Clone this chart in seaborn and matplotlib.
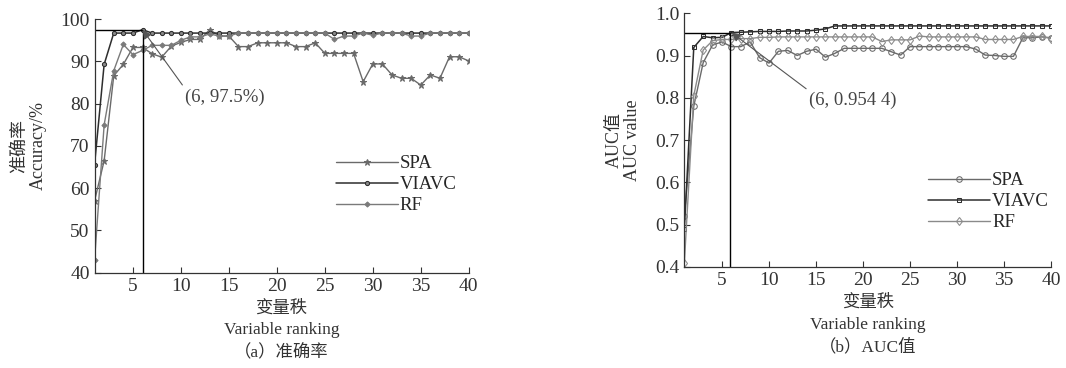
import numpy as np
import pandas as pd
import seaborn as sns
import matplotlib.pyplot as plt
from matplotlib.ticker import FormatStrFormatter

# variable rank (number of selected variables)
ranks = np.arange(1, 41)

# (a) accuracy, %
acc_spa = [57, 66.5, 86.6, 89.3, 93.3, 93.3, 91.8, 91.0, 93.6, 94.5,
           95.2, 95.2, 97.5, 96.0, 96.0, 93.5, 93.5, 94.4, 94.4, 94.4,
           94.4, 93.5, 93.5, 94.4, 91.9, 91.9, 91.9, 91.9, 85.2, 89.4,
           89.4, 86.8, 86.0, 86.0, 84.4, 86.8, 86.0, 91.1, 91.1, 90.1]
acc_viavc = [65.6, 89.3, 96.7, 96.7, 96.7, 97.5, 96.7, 96.7, 96.7, 96.7,
             96.7, 96.7, 96.7, 96.7, 96.7, 96.7, 96.7, 96.7, 96.7, 96.7,
             96.7, 96.7, 96.7, 96.7, 96.7, 96.7, 96.7, 96.7, 96.7, 96.7,
             96.7, 96.7, 96.7, 96.7, 96.7, 96.7, 96.7, 96.7, 96.7, 96.7]
acc_rf = [43, 75, 87.8, 94.0, 91.6, 92.6, 93.8, 93.8, 93.8, 95.0,
          95.8, 95.8, 96.5, 96.0, 96.0, 96.7, 96.7, 96.7, 96.7, 96.7,
          96.7, 96.7, 96.7, 96.7, 96.7, 95.2, 96.0, 96.0, 96.7, 96.2,
          96.7, 96.7, 96.7, 96.0, 96.0, 96.7, 96.7, 96.7, 96.7, 96.7]

# (b) AUC value
auc_spa = [0.52, 0.78, 0.883, 0.925, 0.932, 0.921, 0.921, 0.932, 0.895, 0.882,
           0.910, 0.912, 0.900, 0.910, 0.915, 0.896, 0.905, 0.917, 0.917, 0.917,
           0.917, 0.917, 0.909, 0.901, 0.921, 0.921, 0.921, 0.921, 0.921, 0.921,
           0.921, 0.915, 0.901, 0.900, 0.898, 0.898, 0.942, 0.942, 0.944, 0.942]
auc_viavc = [0.49, 0.919, 0.945, 0.942, 0.943, 0.9544, 0.955, 0.956, 0.957, 0.957,
             0.957, 0.958, 0.958, 0.958, 0.960, 0.963, 0.970, 0.970, 0.970, 0.970,
             0.970, 0.970, 0.970, 0.970, 0.970, 0.970, 0.970, 0.970, 0.970, 0.970,
             0.970, 0.970, 0.970, 0.970, 0.970, 0.970, 0.970, 0.970, 0.970, 0.970]
auc_rf = [0.41, 0.805, 0.913, 0.935, 0.938, 0.938, 0.940, 0.940, 0.943, 0.943,
          0.944, 0.944, 0.944, 0.944, 0.944, 0.944, 0.944, 0.944, 0.944, 0.944,
          0.944, 0.933, 0.937, 0.937, 0.937, 0.946, 0.944, 0.944, 0.944, 0.944,
          0.944, 0.944, 0.938, 0.938, 0.938, 0.938, 0.945, 0.945, 0.945, 0.940]

best_rank = 6
best_acc = 97.5
best_auc = 0.9544

sns.set_style("ticks")
plt.rcParams['font.family'] = ['Liberation Serif', 'Noto Sans CJK SC', 'DejaVu Sans']
plt.rcParams['xtick.direction'] = 'in'
plt.rcParams['ytick.direction'] = 'in'

fig = plt.figure(figsize=(10.66, 3.68), dpi=100)
ax1 = fig.add_axes([0.0887, 0.259, 0.351, 0.689])
ax2 = fig.add_axes([0.642, 0.275, 0.344, 0.689])

c_spa, c_viavc, c_rf = '#6a6a6a', '#2e2e2e', '#7a7a7a'

# ---- (a) accuracy
sns.lineplot(x=ranks, y=acc_spa, ax=ax1, color=c_spa, lw=1, marker='*', markersize=4.5,
             markeredgecolor=c_spa, label='SPA')
sns.lineplot(x=ranks, y=acc_viavc, ax=ax1, color=c_viavc, lw=1.1, marker='o', markersize=3,
             markerfacecolor='#888888', markeredgecolor=c_viavc, label='VIAVC')
sns.lineplot(x=ranks, y=acc_rf, ax=ax1, color=c_rf, lw=1, marker='D', markersize=2.6,
             markeredgecolor=c_rf, label='RF')
ax1.hlines(best_acc, 1, best_rank, color='black', lw=1)
ax1.vlines(best_rank, 40, best_acc, color='black', lw=1)
ax1.annotate('(6, 97.5%)', xy=(best_rank, best_acc), xytext=(10.4, 81.6),
             fontsize=13.5, color='#444444', ha='left', va='center',
             arrowprops=dict(arrowstyle='-|>', color='#555555', lw=0.8,
                             relpos=(0, 1), shrinkA=0, shrinkB=0))
ax1.set_ylim(40, 100)
ax1.set_yticks(range(40, 101, 10))
ax1.set_ylabel('准确率\nAccuracy/%', fontsize=13, color='#333333', linespacing=1.1, labelpad=10)

# ---- (b) AUC
sns.lineplot(x=ranks, y=auc_spa, ax=ax2, color=c_spa, lw=1, marker='o', markersize=4,
             markerfacecolor='none', markeredgecolor=c_spa, label='SPA')
sns.lineplot(x=ranks, y=auc_viavc, ax=ax2, color=c_viavc, lw=1.1, marker='s', markersize=3.2,
             markerfacecolor='none', markeredgecolor=c_viavc, label='VIAVC')
sns.lineplot(x=ranks, y=auc_rf, ax=ax2, color='#8a8a8a', lw=1, marker='d', markersize=4.5,
             markerfacecolor='none', markeredgecolor='#8a8a8a', label='RF')
ax2.hlines(best_auc, 1, best_rank, color='black', lw=1)
ax2.vlines(best_rank - 0.1, 0.4, best_auc, color='black', lw=1)
ax2.annotate('(6, 0.954 4)', xy=(best_rank, best_auc), xytext=(14.3, 0.795),
             fontsize=13.5, color='#444444', ha='left', va='center',
             arrowprops=dict(arrowstyle='-|>', color='#555555', lw=0.8,
                             relpos=(0, 1), shrinkA=0, shrinkB=0))
ax2.set_ylim(0.4, 1.0)
ax2.set_yticks(np.arange(0.4, 1.01, 0.1))
ax2.yaxis.set_major_formatter(FormatStrFormatter('%.1f'))
ax2.set_ylabel('AUC值\nAUC value', fontsize=13, color='#333333', linespacing=1.1, labelpad=10)

for ax, cap, leg_xy in [(ax1, '（a）准确率', (0.62, 0.50)), (ax2, '（b）AUC值', (0.64, 0.41))]:
    ax.set_xlim(1, 40)
    ax.set_xticks(range(5, 41, 5))
    ax.set_xlabel('变量秩\nVariable ranking\n' + cap, fontsize=12.5, color='#333333', linespacing=1.5)
    ax.tick_params(labelsize=14, length=4, width=0.8, colors='#333333')
    sns.despine(ax=ax)
    for s in ('left', 'bottom'):
        ax.spines[s].set_color('#333333')
        ax.spines[s].set_linewidth(0.9)
    ax.legend(loc='upper left', bbox_to_anchor=leg_xy, frameon=False, fontsize=13.5,
              handlelength=3.3, handletextpad=0.1, labelspacing=0.2, borderpad=0)

fig.savefig('out.png', dpi=100)
